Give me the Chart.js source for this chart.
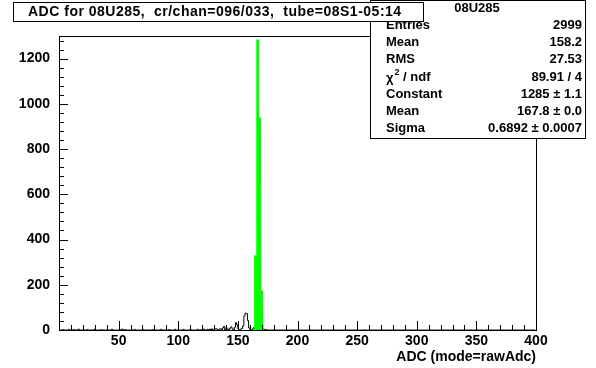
<!DOCTYPE html>
<html>
<head>
<meta charset="utf-8">
<script src="https://cdn.jsdelivr.net/npm/chart.js@4/dist/chart.umd.min.js"></script>
<style>
  html, body { margin: 0; padding: 0; background: #fff; }
  #adc-chart { display: block; }
</style>
</head>
<body>
<canvas id="adc-chart" width="596" height="368"></canvas>
<script>
// non-empty histogram bins (low edge of 1-ADC bin) and their counts
const adcBins   = [3, 8, 12, 16, 23, 29, 35, 44, 52, 53, 55, 63, 70, 78, 85, 92, 97, 104, 110, 116, 119, 121,
                   124, 126, 128, 130, 131, 132, 134, 135, 137, 138, 140, 141, 143, 144, 145, 147, 148, 149, 150,
                   152, 153, 154, 155, 156, 157, 158, 159, 160, 162, 163, 164, 171, 173];
const adcCounts = [2, 3, 2, 4, 2, 3, 2, 3, 4, 3, 2, 3, 2, 2, 3, 2, 3, 3, 2, 3, 2, 4,
                   3, 4, 5, 3, 6, 4, 3, 6, 9, 16, 10, 4, 8, 14, 6, 12, 33, 22, 5,
                   4, 6, 18, 62, 75, 73, 42, 9, 3, 5, 10, 6, 5, 2];

// gaussian fit line as it is drawn (ADC, counts)
const fitX = [163.0, 164.6, 164.9, 165.2, 166.4, 166.7, 167.0, 168.0, 168.3, 168.6, 169.7, 170.0, 170.3, 172.0];
const fitY = [0, 0, 330, 0, 0, 1285, 0, 0, 940, 0, 0, 175, 0, 0];

const xTickLabels = [50, 100, 150, 200, 250, 300, 350, 400];
const yTickLabels = [0, 200, 400, 600, 800, 1000, 1200];

const titleText = 'ADC for 08U285,  cr/chan=096/033,  tube=08S1-05:14';
const statsTitle = '08U285';
const statsNames = ['Entries', 'Mean', 'RMS', 'chi2', 'Constant', 'Mean', 'Sigma'];
const statsValues = ['2999', '158.2', '27.53', '89.91 / 4', '1285 \u00b1 1.1', '167.8 \u00b1 0.0', '0.6892 \u00b1 0.0007'];

const FONT = '"Liberation Sans", Arial, Helvetica, sans-serif';

// full histogram, empty bins included
const histPoints = [];
for (let i = 0; i < 400; i++) {
  const k = adcBins.indexOf(i);
  histPoints.push({ x: i + 0.5, y: k >= 0 ? adcCounts[k] : 0 });
}
const fitPoints = fitX.map((x, i) => ({ x: x, y: fitY[i] }));

// ROOT-like frame with inside ticks, stats box and title box
const frameTicks = {
  id: 'frameTicks',
  afterDatasetsDraw(chart) {
    const { ctx, chartArea: a, scales: { x, y } } = chart;
    ctx.save();
    ctx.strokeStyle = '#000';
    ctx.lineWidth = 1;
    ctx.strokeRect(a.left + 0.5, a.top + 0.5, a.right - a.left, a.bottom - a.top);
    ctx.beginPath();
    for (let v = 0; v <= 400; v += 10) {
      const px = Math.round(x.getPixelForValue(v)) + 0.5;
      const len = v % 50 === 0 ? 9 : 5;
      ctx.moveTo(px, a.bottom);
      ctx.lineTo(px, a.bottom - len);
    }
    for (let v = 0; v <= 1280; v += 40) {
      const py = Math.round(y.getPixelForValue(v)) + 0.5;
      const len = v % 200 === 0 ? 9 : 5;
      ctx.moveTo(a.left, py);
      ctx.lineTo(a.left + len, py);
    }
    ctx.stroke();
    ctx.restore();
  },
  afterDraw(chart) {
    const ctx = chart.ctx;
    ctx.save();
    ctx.strokeStyle = '#000';
    ctx.lineWidth = 1;

    // stats box
    ctx.fillStyle = '#fff';
    ctx.fillRect(370, 0, 215, 138);
    ctx.strokeRect(370.5, 0.5, 215, 138);
    ctx.fillStyle = '#000';
    ctx.textBaseline = 'middle';
    ctx.font = 'bold 13px ' + FONT;
    ctx.textAlign = 'center';
    ctx.fillText(statsTitle, 477, 8);
    statsNames.forEach((name, i) => {
      const yy = 25.5 + i * 17.2;
      ctx.textAlign = 'left';
      if (name === 'chi2') {
        ctx.font = 'bold 13px ' + FONT;
        ctx.fillText('\u03c7', 386, yy + 1);
        const w = ctx.measureText('\u03c7').width;
        ctx.font = 'bold 9px ' + FONT;
        ctx.fillText('2', 386 + w + 1, yy - 5);
        ctx.font = 'bold 13px ' + FONT;
        ctx.fillText(' / ndf', 386 + w + 6, yy);
      } else {
        ctx.font = 'bold 13px ' + FONT;
        ctx.fillText(name, 386, yy);
      }
      ctx.textAlign = 'right';
      ctx.fillText(statsValues[i], 582, yy);
    });

    // title box
    ctx.fillStyle = '#fff';
    ctx.fillRect(13, 2, 410, 19);
    ctx.strokeRect(13.5, 2.5, 410, 19);
    ctx.fillStyle = '#000';
    ctx.textAlign = 'left';
    ctx.font = 'bold 14px ' + FONT;
    ctx.letterSpacing = '0.5px';
    ctx.fillText(titleText, 28, 12);
    ctx.restore();
  }
};

const tickFont = { family: FONT, weight: 'bold', size: 14 };

new Chart(document.getElementById('adc-chart'), {
  type: 'line',
  data: {
    datasets: [
      {
        label: 'fit',
        data: fitPoints,
        borderColor: '#00ff00',
        borderWidth: 3,
        borderJoinStyle: 'bevel',
        pointRadius: 0,
        tension: 0,
        order: 0
      },
      {
        label: 'ADC',
        data: histPoints,
        borderColor: '#000',
        borderWidth: 1,
        stepped: 'middle',
        pointRadius: 0,
        order: 1
      }
    ]
  },
  options: {
    responsive: false,
    animation: false,
    devicePixelRatio: 1,
    layout: { padding: { top: 36, right: 60, bottom: 0, left: 0 } },
    plugins: { legend: { display: false }, tooltip: { enabled: false }, title: { display: false } },
    scales: {
      x: {
        type: 'linear',
        min: 0,
        max: 400,
        afterFit: s => { s.height = 38; },
        grid: { display: false, drawTicks: false },
        border: { display: false },
        ticks: {
          stepSize: 50,
          padding: 3,
          color: '#000',
          font: tickFont,
          maxRotation: 0,
          autoSkip: false,
          callback: v => xTickLabels.includes(v) ? String(v) : ''
        },
        title: {
          display: true,
          text: 'ADC (mode=rawAdc)',
          align: 'end',
          color: '#000',
          font: tickFont,
          padding: { top: 0, bottom: 2 }
        }
      },
      y: {
        min: 0,
        max: 1300,
        afterFit: s => { s.width = 59; },
        grid: { display: false, drawTicks: false },
        border: { display: false },
        ticks: {
          stepSize: 200,
          includeBounds: false,
          padding: 9,
          color: '#000',
          font: tickFont,
          callback: v => yTickLabels.includes(v) ? String(v) : ''
        }
      }
    }
  },
  plugins: [frameTicks]
});
</script>
</body>
</html>
